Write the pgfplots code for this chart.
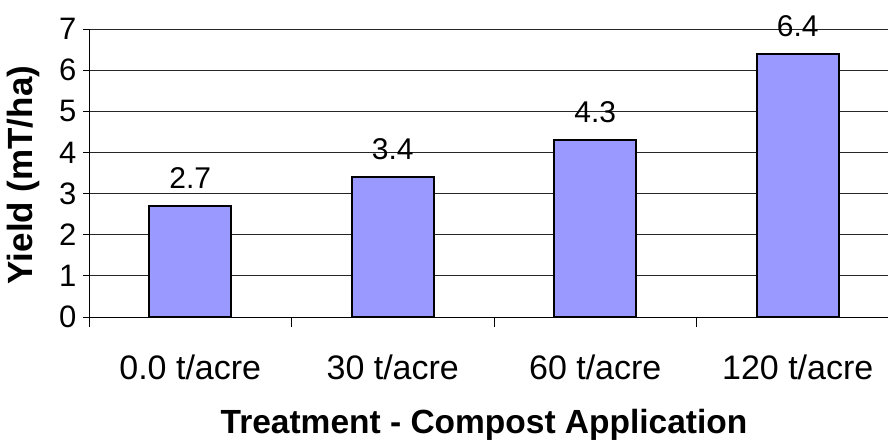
\documentclass[border=0pt]{standalone}
\usepackage{pgfplots}
\pgfplotsset{compat=1.18}
\usepackage{fontspec}
\setmainfont{Liberation Sans}
\definecolor{barfill}{HTML}{9999FF}
\begin{document}
\begin{tikzpicture}
\begin{axis}[
  at={(89pt,127pt)}, anchor=south west,
  scale only axis, width=810pt, height=288pt,
  xmin=-0.5, xmax=3.5, ymin=0, ymax=7,
  axis x line*=bottom, axis y line*=left,
  axis line style={black, line width=1pt},
  ytick={0,1,...,7},
  xtick={0,1,2,3},
  xticklabels={0.0 t/acre,30 t/acre,60 t/acre,120 t/acre},
  minor xtick={-0.5,0.5,1.5,2.5,3.5},
  major x tick style={draw=none},
  minor x tick style={black, line width=0.8pt},
  minor tick length=10pt,
  y tick style={black, line width=0.8pt},
  major tick length=6pt,
  tick align=outside,
  ymajorgrids,
  major grid style={black!85, line width=0.8pt},
  ticklabel style={font=\fontsize{31}{36}\selectfont},
  yticklabel style={/pgf/number format/assume math mode=true, xshift=-3pt},
  xticklabel style={font=\fontsize{34}{40}\selectfont, yshift=-28pt},
  xlabel={\textbf{Treatment - Compost Application}},
  xlabel style={font=\fontsize{33.5}{40}\selectfont, at={(axis description cs:0.4877,-0.375)}, anchor=center},
  ylabel={\textbf{Yield (mT/ha)}},
  ylabel style={font=\fontsize{35}{42}\selectfont, at={(axis description cs:-0.0815,0.493)}, anchor=center, rotate=0},
  nodes near coords,
  nodes near coords style={font=\fontsize{30}{35}\selectfont, /pgf/number format/fixed, /pgf/number format/precision=1, /pgf/number format/fixed zerofill, /pgf/number format/assume math mode=true, yshift=13pt},
  clip=false,
]
\addplot[ybar, bar width=82pt, fill=barfill, draw=black, line width=2pt] coordinates {(0,2.7) (1,3.4) (2,4.3) (3,6.4)};
\end{axis}
\pgfresetboundingbox
\path[use as bounding box] (0,0) rectangle (888pt,444pt);
\end{tikzpicture}
\end{document}
